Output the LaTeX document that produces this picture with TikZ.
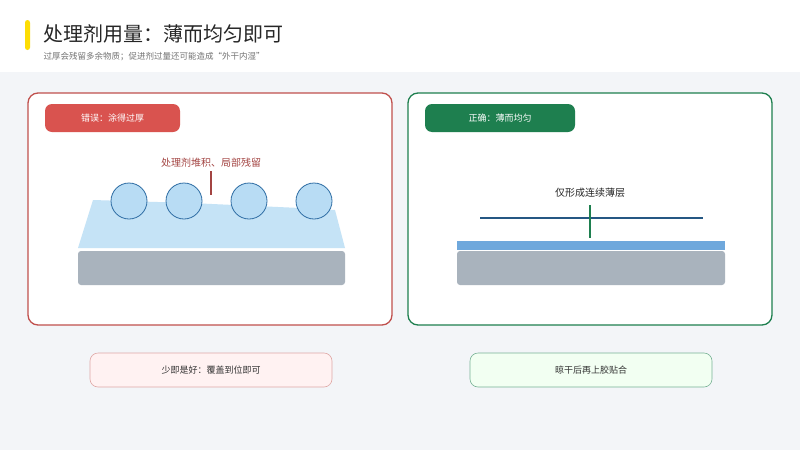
\documentclass[tikz,border=0pt]{standalone}
\usepackage{fontspec}
\setmainfont{Noto Sans CJK SC}
\definecolor{bgray}{HTML}{F3F5F8}
\definecolor{badred}{HTML}{C0504D}
\definecolor{pillred}{HTML}{D9534F}
\definecolor{goodgreen}{HTML}{1E7F4F}
\definecolor{coat}{HTML}{C5E3F6}
\definecolor{ball}{HTML}{B8DCF4}
\definecolor{coatline}{HTML}{2E6DA4}
\definecolor{subst}{HTML}{A9B3BD}
\definecolor{thinlayer}{HTML}{6FA8DC}
\tikzset{
  panel/.style={draw, line width=1.3pt, rounded corners=10pt},
  pill/.style={rounded corners=7pt, font=\fontsize{9}{9}\selectfont},
  note/.style={draw, line width=0.6pt, rounded corners=8pt, font=\fontsize{9}{9}\selectfont}
}
\begin{document}
\begin{tikzpicture}[x=1pt,y=-1pt]
  \useasboundingbox (0,0) rectangle (800,450);
  \fill[white] (0,0) rectangle (800,72);
  \fill[bgray] (0,72) rectangle (800,450);
  \fill[yellow!80!orange, rounded corners=2.5pt] (25,20) rectangle (30,50);
  \node[anchor=west, font=\fontsize{20}{20}\selectfont, text=black!85] (title) at (40,34) {处理剂用量：薄而均匀即可};
  \node[anchor=west, font=\fontsize{8.5}{8.5}\selectfont, text=black!55] (sub) at (40,57) {过厚会残留多余物质；促进剂过量还可能造成“外干内湿”};

  % left panel
  \draw[panel, badred, fill=white] (28,93) rectangle (392,325);
  \fill[pill, pillred] (45,104) rectangle (180,132);
  \node[font=\fontsize{9}{9}\selectfont, text=white] (bad) at (112.5,118) {错误：涂得过厚};
  \fill[coat] (93,200) -- (190,203) -- (300,208) -- (335,210) -- (345,248) -- (78,248) -- cycle;
  \fill[subst, rounded corners=3pt] (78,251) rectangle (345,285);
  \foreach \cx in {129,184,249,314}
    \draw[coatline, fill=ball, line width=0.8pt] (\cx,201) circle (18);
  \node[text=badred!85!black, font=\fontsize{10}{10}\selectfont] (pile) at (211,163) {处理剂堆积、局部残留};
  \coordinate (pileend) at (211,195);
  \draw[badred!85!black, line width=1.3pt] (pile.south) -- (pileend);

  % right panel
  \draw[panel, goodgreen, fill=white] (408,93) rectangle (772,325);
  \fill[pill, goodgreen] (425,104) rectangle (575,132);
  \node[font=\fontsize{9}{9}\selectfont, text=white] (good) at (500,118) {正确：薄而均匀};
  \node[text=black!85, font=\fontsize{10}{10}\selectfont] (layer) at (590,193) {仅形成连续薄层};
  \coordinate (ll) at (480,218);
  \coordinate (lr) at (703,218);
  \draw[coatline!80!black, line width=1.3pt] (ll) -- (lr);
  \coordinate (vt) at (590,205);
  \coordinate (vb) at (590,238);
  \draw[goodgreen, line width=1.3pt] (vt) -- (vb);
  \fill[thinlayer] (457,241) rectangle (725,250);
  \fill[subst, rounded corners=3pt] (457,251) rectangle (725,285);

  % notes
  \draw[note, draw=badred!50, fill=red!5] (90,353) rectangle node[text=black!80] (less) {少即是好：覆盖到位即可} (332,387);
  \draw[note, draw=goodgreen!60, fill=green!5] (470,353) rectangle node[text=black!80] (dry) {晾干后再上胶贴合} (712,387);
\end{tikzpicture}
\end{document}
